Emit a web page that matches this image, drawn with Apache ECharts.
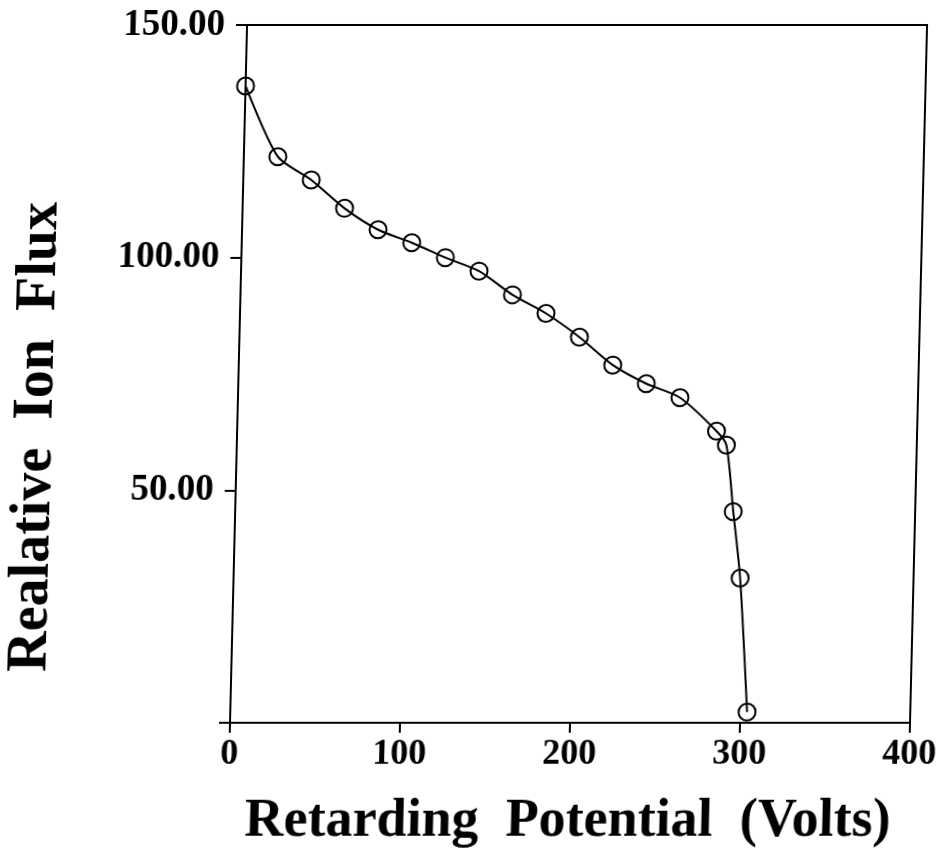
<!DOCTYPE html>
<html>
<head>
<meta charset="utf-8">
<script src="https://cdn.jsdelivr.net/npm/echarts@6/dist/echarts.min.js"></script>
<style>
  html, body { margin: 0; padding: 0; background: #fff; }
  #chart { width: 944px; height: 853px; transform: skewX(-1.4deg); transform-origin: 0 723px; }
</style>
</head>
<body>
<div id="chart"></div>
<script>
// Retarding potential (Volts)
const potential = [0, 20, 40, 60, 80, 100, 120, 140, 160, 180, 200, 220, 240, 260, 282, 288, 293, 298, 304];
// Relative ion flux
const ionFlux = [136.9, 121.7, 116.7, 110.6, 106.0, 103.2, 100.0, 97.1, 92.0, 88.0, 82.9, 76.9, 72.9, 69.9, 62.7, 59.7, 45.4, 31.1, 2.3];
const xTicks = [0, 100, 200, 300, 400];
const yTicks = [0, 50, 100, 150];

const chart = echarts.init(document.getElementById('chart'), null, { renderer: 'canvas' });
const FONT = '"Liberation Serif", "DejaVu Serif", serif';

chart.setOption({
  backgroundColor: '#fff',
  animation: false,
  grid: { left: 230, right: 34, top: 25, bottom: 130, containLabel: false, outerBoundsMode: 'none',
          show: true, borderColor: '#000', borderWidth: 2, backgroundColor: 'transparent' },
  xAxis: {
    type: 'value', min: xTicks[0], max: xTicks[xTicks.length - 1], interval: 100,
    name: 'Retarding  Potential  (Volts)', nameLocation: 'middle', nameGap: 72,
    nameTextStyle: { fontFamily: FONT, fontWeight: 'bold', fontSize: 54, color: '#000' },
    axisLine: { show: true, lineStyle: { color: '#000', width: 2 } },
    axisTick: { show: true, inside: false, length: 10, lineStyle: { color: '#000', width: 2 } },
    axisLabel: { show: true, fontFamily: FONT, fontWeight: 'bold', fontSize: 36, color: '#000', margin: 14,
      hideOverlap: false, showMinLabel: true, showMaxLabel: true },
    splitLine: { show: false }
  },
  yAxis: {
    type: 'value', min: yTicks[0], max: yTicks[yTicks.length - 1], interval: 50,
    name: 'Realative  Ion  Flux', nameLocation: 'middle', nameGap: 172, nameRotate: 90,
    nameTextStyle: { fontFamily: FONT, fontWeight: 'bold', fontSize: 56, color: '#000', padding: [0, 126, 0, 0] },
    axisLine: { show: true, lineStyle: { color: '#000', width: 2 } },
    axisTick: { show: true, inside: false, length: 11, lineStyle: { color: '#000', width: 2 } },
    axisLabel: { show: true, fontFamily: FONT, fontWeight: 'bold', fontSize: 37, color: '#000', margin: 22,
      hideOverlap: false, showMinLabel: true, showMaxLabel: true,
      formatter: v => v === 0 ? '' : v.toFixed(2) },
    splitLine: { show: false }
  },
  series: [{
    type: 'line',
    data: potential.map((p, i) => [p, ionFlux[i]]),
    smooth: 0.25,
    symbol: 'circle', symbolSize: 17,
    lineStyle: { color: '#000', width: 2 },
    itemStyle: { color: 'rgba(0,0,0,0)', borderColor: '#000', borderWidth: 2 },
    z: 3
  }]
});
</script>
</body>
</html>
